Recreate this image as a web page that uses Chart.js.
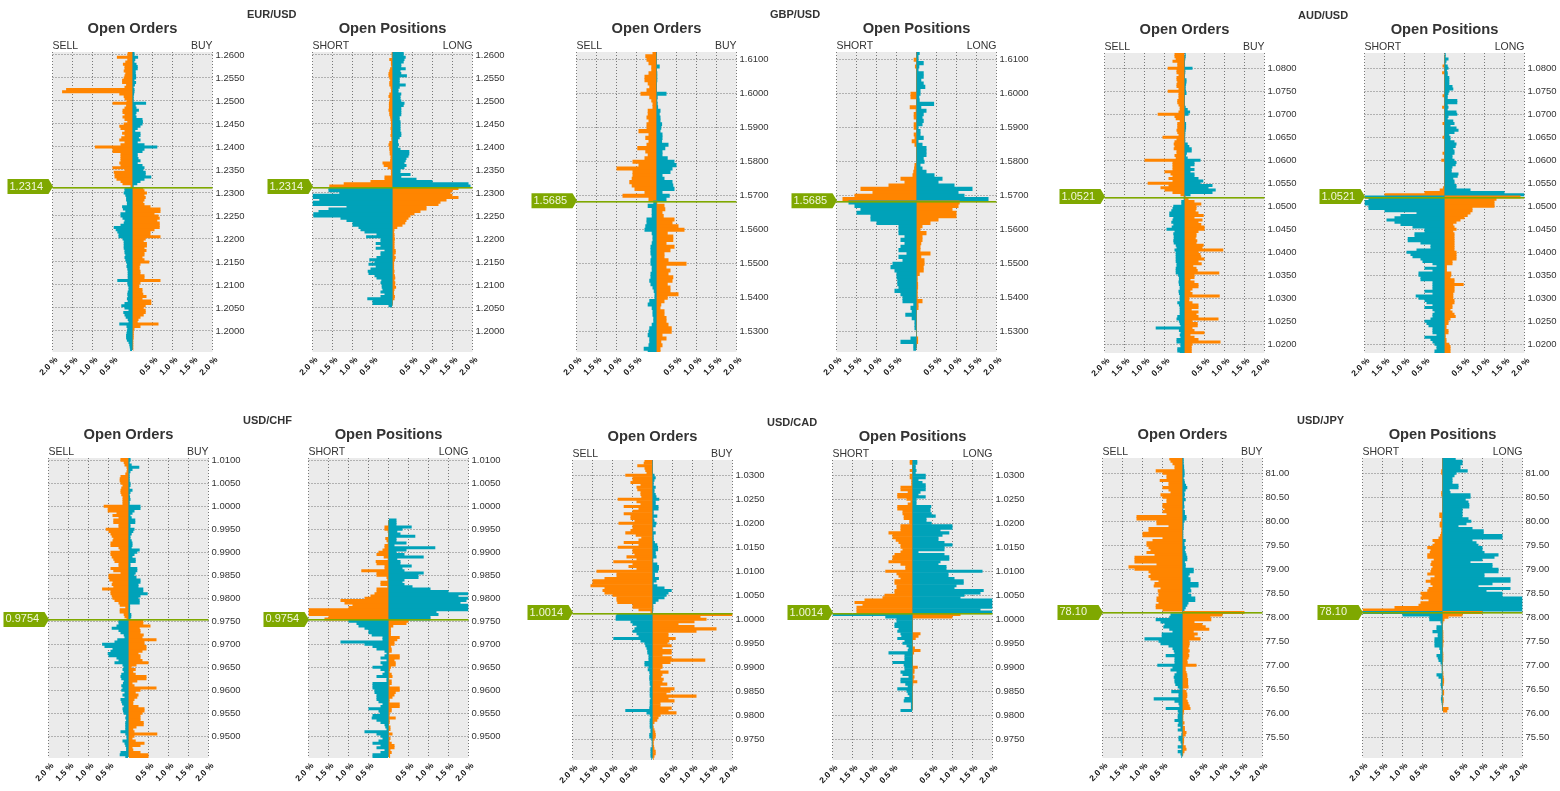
<!DOCTYPE html>
<html>
<head>
<meta charset="utf-8">
<title>Open Orders / Open Positions</title>
<script src="https://cdn.jsdelivr.net/npm/chart.js@4"></script>
<style>
  html, body { margin: 0; padding: 0; background: #fff; overflow: hidden; }
  body { width: 1560px; height: 791px; position: relative; }
  canvas { position: absolute; }
  .pair { position: absolute; font: bold 11px "Liberation Sans", Arial, sans-serif; color: #333; white-space: nowrap; }
</style>
</head>
<body>
<script>
// all values in hundredths of a percent, top row first
// EUR/USD rows 1.2605 down to 1.1960
const eurOrdersLeft = [
  12,13,39,13,18,24,20,20,22,18,
  20,22,26,26,16,20,166,176,33,22,
  20,15,50,16,20,25,25,20,25,20,
  13,22,33,30,20,26,20,28,33,20,
  30,94,50,50,30,30,30,30,33,30,
  50,20,47,45,45,40,30,25,5,
  20,20,22,18,16,16,14,14,26,24,
  18,30,30,25,20,22,30,47,42,38,
  35,35,25,22,22,22,22,20,20,18,
  20,18,16,14,15,13,12,12,12,12,
  38,13,12,10,10,12,13,12,14,12,
  20,28,20,10,23,20,17,12,10,33,
  15,13,14,15,16,16,14,10,8,7,6];
const eurOrdersRight = [
  5,5,14,7,5,10,13,13,8,8,
  9,9,5,9,6,3,5,5,4,3,
  3,3,34,8,10,16,10,8,10,25,
  26,25,20,13,7,20,20,16,20,13,
  30,62,30,25,13,13,15,20,13,25,
  30,27,33,33,47,30,20,12,3,
  27,30,36,30,33,30,27,30,45,70,
  70,55,65,68,62,68,68,68,55,45,
  45,70,33,28,36,36,30,35,30,30,
  25,30,42,20,18,18,20,20,30,30,
  70,20,17,17,25,25,27,35,25,47,
  47,33,28,33,33,28,20,15,13,65,
  20,5,3,3,3,3,2,2,2,2,2];
const eurPositionsLeft = [
  2,2,2,8,4,4,3,6,8,10,
  10,8,6,8,8,5,4,4,8,10,
  7,8,9,9,9,10,8,8,6,5,
  4,4,4,5,4,4,5,3,3,8,
  10,8,8,7,7,5,5,6,25,22,
  12,4,4,4,20,20,55,122,158,
  160,160,133,200,200,183,200,200,115,160,
  185,198,198,130,115,100,100,85,80,70,
  40,66,30,30,42,30,42,20,30,30,
  40,58,45,60,42,55,62,60,45,40,
  28,30,27,27,25,30,20,30,63,50,
  50,10,0,0,0,0,0,0,0,0,
  0,0,0,0,0,0,0,0,0,0,0];
const eurPositionsRight = [
  28,28,33,30,28,22,22,33,20,22,
  36,18,18,18,33,18,15,15,22,20,
  20,22,30,28,22,22,22,22,18,18,
  20,20,20,20,20,22,22,18,14,14,
  16,14,20,42,42,40,35,33,30,35,
  30,20,20,45,22,60,100,190,195,
  165,150,145,150,165,135,120,115,85,85,
  70,55,45,40,35,32,25,12,5,4,
  5,5,6,5,5,5,5,8,8,5,
  8,6,4,4,4,4,5,4,6,7,
  5,7,6,9,5,4,4,6,5,0,
  0,0,0,0,0,0,0,0,0,0,
  0,0,0,0,0,0,0,0,0,0,0];

// GBP/USD rows 1.6120 down to 1.5240
const gbpOrdersLeft = [
  10,28,25,20,13,13,20,30,30,22,
  18,25,40,18,13,10,10,22,22,25,
  20,25,25,45,20,28,20,25,48,28,
  22,30,60,45,100,60,60,62,68,62,
  55,30,85,20,
  8,22,12,12,12,25,25,28,30,12,
  10,10,12,15,15,15,13,15,15,12,
  12,15,15,18,15,10,7,5,5,18,
  22,12,10,10,8,8,12,18,20,22,
  18,18,20,32,22];
const gbpOrdersRight = [
  0,0,0,0,8,1,2,2,2,0,
  0,0,25,3,2,3,4,10,8,10,
  10,14,12,10,15,15,14,30,22,15,
  15,28,45,50,40,35,15,20,40,42,
  45,15,33,25,
  2,20,22,15,18,45,40,55,70,28,
  42,42,25,45,35,20,20,30,75,25,
  35,30,42,40,28,35,35,55,28,20,
  12,10,20,20,25,25,30,38,38,15,
  25,12,15,10,10];
const gbpPositionsLeft = [
  0,0,7,0,4,0,0,0,0,0,
  0,0,15,15,0,0,17,2,7,7,
  0,7,7,0,7,5,12,5,0,0,
  0,0,0,5,6,8,10,40,30,70,
  140,110,155,185,
  170,155,140,150,115,115,100,45,45,45,
  30,40,30,40,45,25,45,35,60,65,
  55,50,50,48,48,45,55,40,35,35,
  8,15,12,28,12,5,5,5,0,0,
  15,40,8,8,0];
const gbpPositionsRight = [
  8,5,5,18,7,5,18,18,12,18,
  22,10,10,7,8,44,12,25,18,15,
  18,15,5,10,10,18,5,15,25,25,
  25,18,20,10,15,25,45,65,55,95,
  140,105,120,180,
  108,105,90,100,100,55,35,15,10,25,
  15,15,12,10,10,35,12,20,20,18,
  18,8,3,3,4,4,3,3,3,15,
  5,5,0,0,0,0,0,0,0,0,
  4,4,0,0,0];

// AUD/USD rows 1.0830 down to 1.0180
const audOrdersLeft = [
  25,25,22,30,18,18,42,20,20,15,
  20,20,18,20,20,15,42,15,15,15,
  18,18,15,12,12,15,67,25,22,12,
  18,18,18,20,18,15,55,20,25,27,
  25,27,20,20,25,22,100,30,30,30,
  30,50,35,30,40,30,92,40,60,50,30,10,
  2,2,8,8,28,30,33,38,38,28,
  30,33,28,32,45,25,28,27,27,28,
  27,22,20,25,22,22,22,22,22,20,
  20,22,22,22,16,14,14,15,14,12,
  12,15,14,12,12,12,18,14,12,12,
  12,12,18,20,14,12,10,72,14,10,
  12,10,20,20,10,10,18,18,12];
const audOrdersRight = [
  3,3,2,1,0,1,20,2,2,1,
  1,5,5,4,3,3,4,5,1,1,
  1,1,1,3,8,14,10,1,1,1,
  4,4,4,3,2,2,1,2,2,8,
  12,18,18,6,4,8,40,25,25,15,
  25,15,25,25,35,47,40,70,60,78,70,15,
  3,10,25,42,30,30,28,35,48,25,
  45,35,42,50,50,35,30,30,28,32,
  30,48,45,97,35,40,42,50,35,43,
  22,30,33,87,25,25,15,25,35,35,
  20,15,20,88,12,12,20,35,35,18,
  35,30,35,85,20,33,33,20,25,50,
  15,25,35,90,20,18,18,18,18];
const audPositionsLeft = [
  0,0,0,0,0,5,0,0,6,0,
  0,0,0,0,0,0,0,0,5,0,
  0,0,0,6,0,0,0,0,0,0,
  5,0,0,0,0,0,5,0,0,0,
  0,0,0,5,0,0,8,0,0,0,
  0,0,0,0,0,0,0,0,4,12,50,150,
  200,190,200,200,190,190,150,70,110,125,
  145,125,110,80,50,50,75,75,92,92,
  60,35,35,70,95,85,80,60,55,30,
  20,50,30,65,65,60,60,30,30,30,
  30,50,30,72,65,50,45,30,50,30,
  25,30,30,35,50,45,40,30,30,30,
  20,50,35,30,25,20,20,25,25];
const audPositionsRight = [
  3,3,10,5,3,8,10,6,8,8,
  12,12,12,12,20,22,12,10,8,8,
  32,32,8,10,8,30,32,10,8,22,
  25,15,30,35,25,12,15,15,25,30,
  28,22,25,25,20,20,25,30,28,20,
  18,18,35,33,22,25,25,30,30,65,150,200,
  190,130,125,125,125,70,70,65,58,50,
  40,30,22,25,30,22,25,25,25,25,
  25,25,25,25,30,30,30,30,20,20,
  6,6,6,17,17,15,25,25,48,25,
  25,25,22,22,22,25,25,20,20,15,
  20,25,28,15,10,10,5,5,10,10,
  3,3,5,5,12,15,15,15,15];

// USD/CHF rows 1.0105 down to 0.9455
const chfOrdersLeft = [
  20,20,12,10,5,4,5,8,20,22,
  22,20,15,18,20,20,18,15,15,15,
  15,62,52,52,30,40,25,38,38,25,
  25,57,50,45,42,38,40,45,45,25,
  22,45,45,42,38,35,25,25,45,38,
  20,50,50,48,40,42,38,66,45,45,
  42,40,35,25,22,8,22,22,12,10,5,
  25,25,30,42,25,20,12,10,28,35,
  66,60,40,45,52,50,30,25,35,15,
  12,15,12,18,20,18,12,14,18,15,
  18,10,15,10,20,18,16,12,15,14,
  12,6,8,6,8,8,8,8,20,8,
  5,5,15,10,8,6,6,20,22,8];
const chfOrdersRight = [
  5,5,3,8,27,10,5,3,3,3,
  3,5,5,3,10,5,3,4,5,3,
  3,30,30,15,10,5,8,17,17,5,
  5,15,12,8,5,5,8,10,10,8,
  28,22,15,10,18,18,5,5,22,22,
  18,15,20,30,30,25,25,37,37,48,
  30,25,28,28,4,4,4,4,7,7,5,
  37,37,55,28,30,30,38,35,70,40,
  40,45,45,35,25,30,30,35,50,20,
  8,18,12,18,45,45,22,10,15,70,
  30,18,25,22,15,12,12,25,40,40,
  35,30,30,30,38,38,20,12,15,72,
  15,10,18,40,30,10,12,30,50,50];
const chfPositionsLeft = [
  0,0,0,0,0,0,0,0,0,0,
  0,0,0,0,0,0,0,0,0,0,
  0,0,0,0,0,0,0,0,0,0,
  10,10,2,0,0,8,5,2,10,10,
  15,25,30,12,2,32,30,10,10,68,
  30,30,5,3,20,20,3,30,30,35,
  45,60,120,110,90,100,200,200,200,150,160,
  100,80,75,60,50,50,42,15,15,120,
  60,40,30,10,5,10,20,5,20,15,
  40,20,10,15,30,5,5,40,40,40,
  35,35,30,30,30,25,15,20,50,25,
  22,40,42,30,20,10,8,5,60,30,
  20,15,25,40,20,30,10,20,40,40];
const chfPositionsRight = [
  0,0,0,0,0,0,0,0,0,0,
  0,0,0,0,0,0,0,0,0,0,
  0,0,0,0,0,0,0,20,20,20,
  58,35,22,30,67,20,20,45,15,117,
  45,20,40,88,22,30,30,58,35,40,
  88,75,75,40,35,40,60,105,150,200,
  175,200,195,180,200,200,200,120,125,105,105,
  50,45,12,6,6,6,6,28,22,15,
  15,6,8,8,2,28,28,15,18,18,
  6,4,3,8,10,2,8,8,3,28,
  28,18,15,10,3,3,28,28,8,8,
  3,3,18,3,3,0,5,5,0,10,
  0,5,3,8,15,15,5,8,4,4];

// USD/CAD rows 1.0330 down to 0.9710
const cadOrdersLeft = [
  20,22,38,20,18,15,68,50,50,55,
  30,40,38,30,30,28,87,40,30,72,
  35,50,72,55,55,45,85,50,50,55,
  68,42,28,35,72,35,87,50,50,45,
  65,40,98,50,60,40,140,90,90,120,
  150,150,155,120,125,120,100,90,90,88,
  50,50,35,5,
  90,92,92,55,50,40,45,50,40,35,
  98,30,20,18,15,13,13,10,10,10,
  20,20,10,12,8,7,8,8,7,7,
  5,7,7,7,7,5,7,7,7,8,
  68,15,7,5,7,7,7,7,5,5,
  8,8,3,2,2,2,5,5,5,5,3];
const cadOrdersRight = [
  0,0,0,0,0,0,5,8,5,3,
  3,8,5,5,8,10,17,8,8,15,
  15,3,3,12,3,5,10,8,2,2,
  8,3,3,3,6,12,14,14,8,8,
  10,2,2,12,16,16,14,6,6,16,
  10,3,12,30,48,40,35,30,15,8,
  2,2,2,0,
  200,120,135,105,65,105,160,110,40,40,
  58,42,38,48,25,48,48,25,48,132,
  45,25,25,20,40,25,22,28,25,37,
  20,55,45,35,110,40,55,20,20,48,
  40,60,20,15,12,5,2,3,5,7,
  8,8,5,3,3,4,5,8,8,5,3];
const cadPositionsLeft = [
  7,7,0,0,7,0,7,7,3,3,
  3,30,30,12,38,38,15,5,12,38,
  38,25,25,22,22,8,8,30,30,30,
  60,50,50,42,35,30,30,25,30,45,
  50,50,60,30,18,18,68,40,35,30,
  45,45,40,40,45,45,70,75,120,145,
  125,140,140,140,
  200,68,40,40,45,45,35,38,30,28,
  38,20,25,15,10,12,60,20,20,20,
  50,22,20,20,30,25,10,30,30,18,
  12,38,15,12,8,20,22,4,4,4,
  30,0,0,0,0,0,0,0,0,0,
  0,0,0,0,0,0,0,0,0,0,0];
const cadPositionsRight = [
  12,12,8,8,10,8,33,33,15,25,
  33,33,33,20,15,33,10,10,10,47,
  45,45,48,58,35,35,48,100,100,70,
  92,75,65,65,80,100,80,80,15,80,
  92,92,70,65,85,85,175,90,90,105,
  128,128,110,105,178,170,130,120,200,200,
  200,200,170,200,
  120,100,0,0,0,0,0,0,20,15,
  8,0,0,0,6,20,4,0,0,0,
  0,0,13,5,5,2,5,3,12,2,
  0,0,0,0,0,0,0,0,0,0,
  0,0,0,0,0,0,0,0,0,0,0];

// USD/JPY rows 81.30 down to 75.10
const jpyOrdersLeft = [
  33,30,25,20,20,67,50,40,40,57,
  35,35,50,35,30,55,50,40,40,50,
  50,45,50,40,115,115,65,65,35,85,
  85,100,100,50,75,90,90,85,80,90,
  70,120,120,120,65,135,120,85,80,85,
  80,60,70,72,55,62,60,60,65,65,
  60,67,67,50,
  0,30,33,67,55,45,48,33,25,52,
  52,95,60,55,35,25,22,20,42,20,
  20,20,63,25,30,15,20,22,20,20,
  18,12,8,28,10,10,72,20,10,8,
  42,12,10,12,12,20,10,12,5,12,
  2,3,10,10,5,3,12,3,12,5,3];
const jpyOrdersRight = [
  3,3,3,4,4,5,5,5,3,5,
  6,9,12,8,5,6,4,8,4,4,
  5,3,6,6,10,10,5,3,3,3,
  2,2,2,2,8,5,5,8,6,8,
  10,12,12,6,8,8,28,28,18,15,
  20,20,40,40,20,22,15,22,32,32,
  15,12,8,5,
  155,100,70,72,30,50,58,67,28,38,
  30,45,17,18,17,15,18,15,17,15,
  12,13,35,8,8,10,12,12,14,14,
  14,15,2,10,12,12,10,13,15,18,
  20,4,3,2,2,2,5,2,6,6,
  10,8,3,4,4,3,8,10,5,2,0];
const jpyPositionsLeft = [
  0,0,0,0,0,3,3,0,0,0,
  0,0,0,0,3,3,0,0,0,0,
  0,0,0,8,8,3,3,7,7,3,
  3,4,6,10,25,20,25,38,30,32,
  38,38,22,28,30,25,28,30,38,20,
  30,42,30,25,35,38,55,52,55,35,
  55,60,120,200,
  200,100,33,33,5,3,15,15,25,12,
  12,20,20,20,20,8,6,6,15,12,
  10,5,2,2,2,2,15,10,4,4,
  5,4,2,2,2,3,4,3,2,0,
  0,0,0,0,0,0,0,0,0,0,
  0,0,0,0,0,0,0,0,0,0,0];
const jpyPositionsRight = [
  33,50,50,45,45,63,35,30,25,25,
  25,40,40,18,20,70,70,58,65,67,
  67,50,50,50,50,65,72,60,40,75,
  103,103,150,150,75,85,90,100,100,105,
  140,130,100,70,125,125,140,140,105,105,
  170,170,125,90,170,110,150,150,200,200,
  200,200,200,200,
  100,50,15,5,2,0,0,0,2,2,
  2,2,3,2,2,0,0,2,2,2,
  2,0,0,0,0,2,2,3,4,4,
  3,0,0,4,4,0,3,3,2,0,
  15,12,0,0,0,0,0,0,0,0,
  0,0,0,0,0,0,0,0,0,0,0];

const pctTicks = [-2, -1.5, -1, -0.5, 0, 0.5, 1, 1.5, 2];
const ORANGE = '#ff8500', TEAL = '#00a2b9', GREEN = '#7fa800';
const FONT = '"Liberation Sans", Arial, sans-serif';

// grey plot, centre line, price tag, current price line and the SELL/BUY words
Chart.register({
  id: 'priceTag',
  beforeDraw(chart) {
    const { ctx, chartArea: a } = chart;
    ctx.save();
    ctx.fillStyle = '#ebebeb';
    ctx.fillRect(a.left, a.top, a.width, a.height);
    ctx.restore();
  },
  afterDatasetsDraw(chart, args, opts) {
    const { ctx, chartArea: a, scales } = chart;
    const y = scales.y.getPixelForValue(opts.price);
    const mid = scales.x.getPixelForValue(0);
    ctx.save();
    ctx.strokeStyle = '#6f8f6a';
    ctx.lineWidth = 1;
    ctx.beginPath();
    ctx.moveTo(mid, Math.max(a.top, scales.y.getPixelForValue(opts.highRow)));
    ctx.lineTo(mid, Math.min(a.bottom, scales.y.getPixelForValue(opts.lowRow)));
    ctx.stroke();
    ctx.fillStyle = GREEN;
    ctx.fillRect(a.left, Math.round(y), a.width, 1.6);
    ctx.beginPath();
    ctx.moveTo(a.left - 45, y - 7.5);
    ctx.lineTo(a.left - 4, y - 7.5);
    ctx.lineTo(a.left + 0.5, y);
    ctx.lineTo(a.left - 4, y + 7.5);
    ctx.lineTo(a.left - 45, y + 7.5);
    ctx.closePath();
    ctx.fill();
    ctx.font = '11px ' + FONT;
    ctx.textBaseline = 'middle';
    ctx.fillStyle = '#f2f7dc';
    ctx.fillText(opts.text, a.left - 43, y);
    ctx.fillStyle = '#333';
    ctx.font = '10.5px ' + FONT;
    ctx.fillText(opts.sideLeft, a.left, a.top - 5.5);
    ctx.textAlign = 'right';
    ctx.fillText(opts.sideRight, a.right, a.top - 5.5);
    ctx.restore();
  }
});

function addPanel(cfg) {
  const canvas = document.createElement('canvas');
  canvas.width = 260;
  canvas.height = 391;
  canvas.style.left = (Math.floor(cfg.x) - 52) + 'px';
  canvas.style.top = (cfg.y - 47) + 'px';
  document.body.appendChild(canvas);

  const levels = [];
  for (let i = 0; i < cfg.rows; i++) {
    levels.push(Number((cfg.first - i * cfg.step).toFixed(4)));
  }
  const makeSet = (values, sign, above, below) => ({
    data: levels.map((p, i) => ({ x: sign * (values[i] || 0) / 100, y: p })),
    backgroundColor: levels.map(p => p > cfg.price ? above : below),
    borderWidth: 0,
    grouped: false,
    inflateAmount: 0,
    barThickness: cfg.step * cfg.pxPerUnit + 0.7
  });
  const filled = levels.filter((p, i) => cfg.left[i] || cfg.right[i]);

  new Chart(canvas, {
    type: 'bar',
    data: {
      datasets: [
        makeSet(cfg.left, -1, ORANGE, TEAL),
        makeSet(cfg.right, 1, TEAL, ORANGE)
      ]
    },
    options: {
      indexAxis: 'y',
      responsive: false,
      animation: false,
      events: [],
      layout: { padding: { left: 52.5 } },
      plugins: {
        legend: { display: false },
        tooltip: { enabled: false },
        title: {
          display: true,
          text: cfg.title,
          fullSize: false,
          color: '#333',
          font: { family: FONT, size: 14.7, weight: 'bold' },
          padding: { top: 15.18, bottom: 14.18 }
        },
        priceTag: {
          price: cfg.price,
          text: cfg.priceText,
          sideLeft: cfg.sides[0],
          sideRight: cfg.sides[1],
          highRow: filled[0],
          lowRow: filled[filled.length - 1]
        }
      },
      scales: {
        x: {
          type: 'linear',
          min: -2,
          max: 2,
          border: { display: false, dash: [1, 2] },
          grid: { color: '#777', drawTicks: false },
          afterFit(s) { s.height = 44; },
          afterBuildTicks(s) { s.ticks = pctTicks.map(v => ({ value: v })); },
          ticks: {
            autoSkip: false,
            minRotation: 45,
            maxRotation: 45,
            padding: 3,
            labelOffset: 4,
            color: '#111',
            font: { family: FONT, size: 8.5, weight: 'bold' },
            callback: v => v === 0 ? '' : Math.abs(v).toFixed(1) + ' %'
          }
        },
        y: {
          type: 'linear',
          position: 'right',
          min: cfg.yMax - 300 / cfg.pxPerUnit,
          max: cfg.yMax,
          offset: false,
          border: { display: false, dash: [1, 2] },
          grid: { offset: false, color: '#777', drawTicks: false },
          afterFit(s) { s.width = 47.5; },
          afterBuildTicks(s) { s.ticks = s.ticks.filter(t => t.value >= s.min && t.value <= s.max); },
          ticks: {
            stepSize: cfg.tick,
            includeBounds: false,
            autoSkip: false,
            padding: 3,
            color: '#333',
            font: { family: FONT, size: 9.5 },
            callback: v => v.toFixed(cfg.digits)
          }
        }
      }
    }
  });
}

function addPair(text, x, y) {
  const d = document.createElement('div');
  d.className = 'pair';
  d.textContent = text;
  d.style.left = x + 'px';
  d.style.top = y + 'px';
  document.body.appendChild(d);
}

const ORDERS = ['SELL', 'BUY'], POSITIONS = ['SHORT', 'LONG'];
const eur = { first: 1.2605, step: 0.0005, rows: 130, yMax: 1.26065, pxPerUnit: 4600, tick: 0.005, digits: 4, price: 1.2314, priceText: '1.2314' };
const gbp = { first: 1.6120, step: 0.001, rows: 89, yMax: 1.61226, pxPerUnit: 3400, tick: 0.01, digits: 4, price: 1.5685, priceText: '1.5685' };
const aud = { first: 1.0830, step: 0.0005, rows: 131, yMax: 1.0833, pxPerUnit: 4600, tick: 0.005, digits: 4, price: 1.0521, priceText: '1.0521' };
const chf = { first: 1.0105, step: 0.0005, rows: 131, yMax: 1.0105, pxPerUnit: 4600, tick: 0.005, digits: 4, price: 0.9754, priceText: '0.9754' };
const cad = { first: 1.0330, step: 0.0005, rows: 125, yMax: 1.03319, pxPerUnit: 4800, tick: 0.005, digits: 4, price: 1.0014, priceText: '1.0014' };
const jpy = { first: 81.30, step: 0.05, rows: 125, yMax: 81.318, pxPerUnit: 48, tick: 0.5, digits: 2, price: 78.10, priceText: '78.10' };

addPanel({ ...eur, x: 52.5, y: 52, title: 'Open Orders', sides: ORDERS, left: eurOrdersLeft, right: eurOrdersRight });
addPanel({ ...eur, x: 312.5, y: 52, title: 'Open Positions', sides: POSITIONS, left: eurPositionsLeft, right: eurPositionsRight });
addPanel({ ...gbp, x: 576.5, y: 52, title: 'Open Orders', sides: ORDERS, left: gbpOrdersLeft, right: gbpOrdersRight });
addPanel({ ...gbp, x: 836.5, y: 52, title: 'Open Positions', sides: POSITIONS, left: gbpPositionsLeft, right: gbpPositionsRight });
addPanel({ ...aud, x: 1104.5, y: 53, title: 'Open Orders', sides: ORDERS, left: audOrdersLeft, right: audOrdersRight });
addPanel({ ...aud, x: 1364.5, y: 53, title: 'Open Positions', sides: POSITIONS, left: audPositionsLeft, right: audPositionsRight });
addPanel({ ...chf, x: 48.5, y: 458, title: 'Open Orders', sides: ORDERS, left: chfOrdersLeft, right: chfOrdersRight });
addPanel({ ...chf, x: 308.5, y: 458, title: 'Open Positions', sides: POSITIONS, left: chfPositionsLeft, right: chfPositionsRight });
addPanel({ ...cad, x: 572.5, y: 460, title: 'Open Orders', sides: ORDERS, left: cadOrdersLeft, right: cadOrdersRight });
addPanel({ ...cad, x: 832.5, y: 460, title: 'Open Positions', sides: POSITIONS, left: cadPositionsLeft, right: cadPositionsRight });
addPanel({ ...jpy, x: 1102.5, y: 458, title: 'Open Orders', sides: ORDERS, left: jpyOrdersLeft, right: jpyOrdersRight });
addPanel({ ...jpy, x: 1362.5, y: 458, title: 'Open Positions', sides: POSITIONS, left: jpyPositionsLeft, right: jpyPositionsRight });

addPair('EUR/USD', 247, 8);
addPair('GBP/USD', 770, 8);
addPair('AUD/USD', 1298, 9);
addPair('USD/CHF', 243, 414);
addPair('USD/CAD', 767, 416);
addPair('USD/JPY', 1297, 414);
</script>
</body>
</html>
